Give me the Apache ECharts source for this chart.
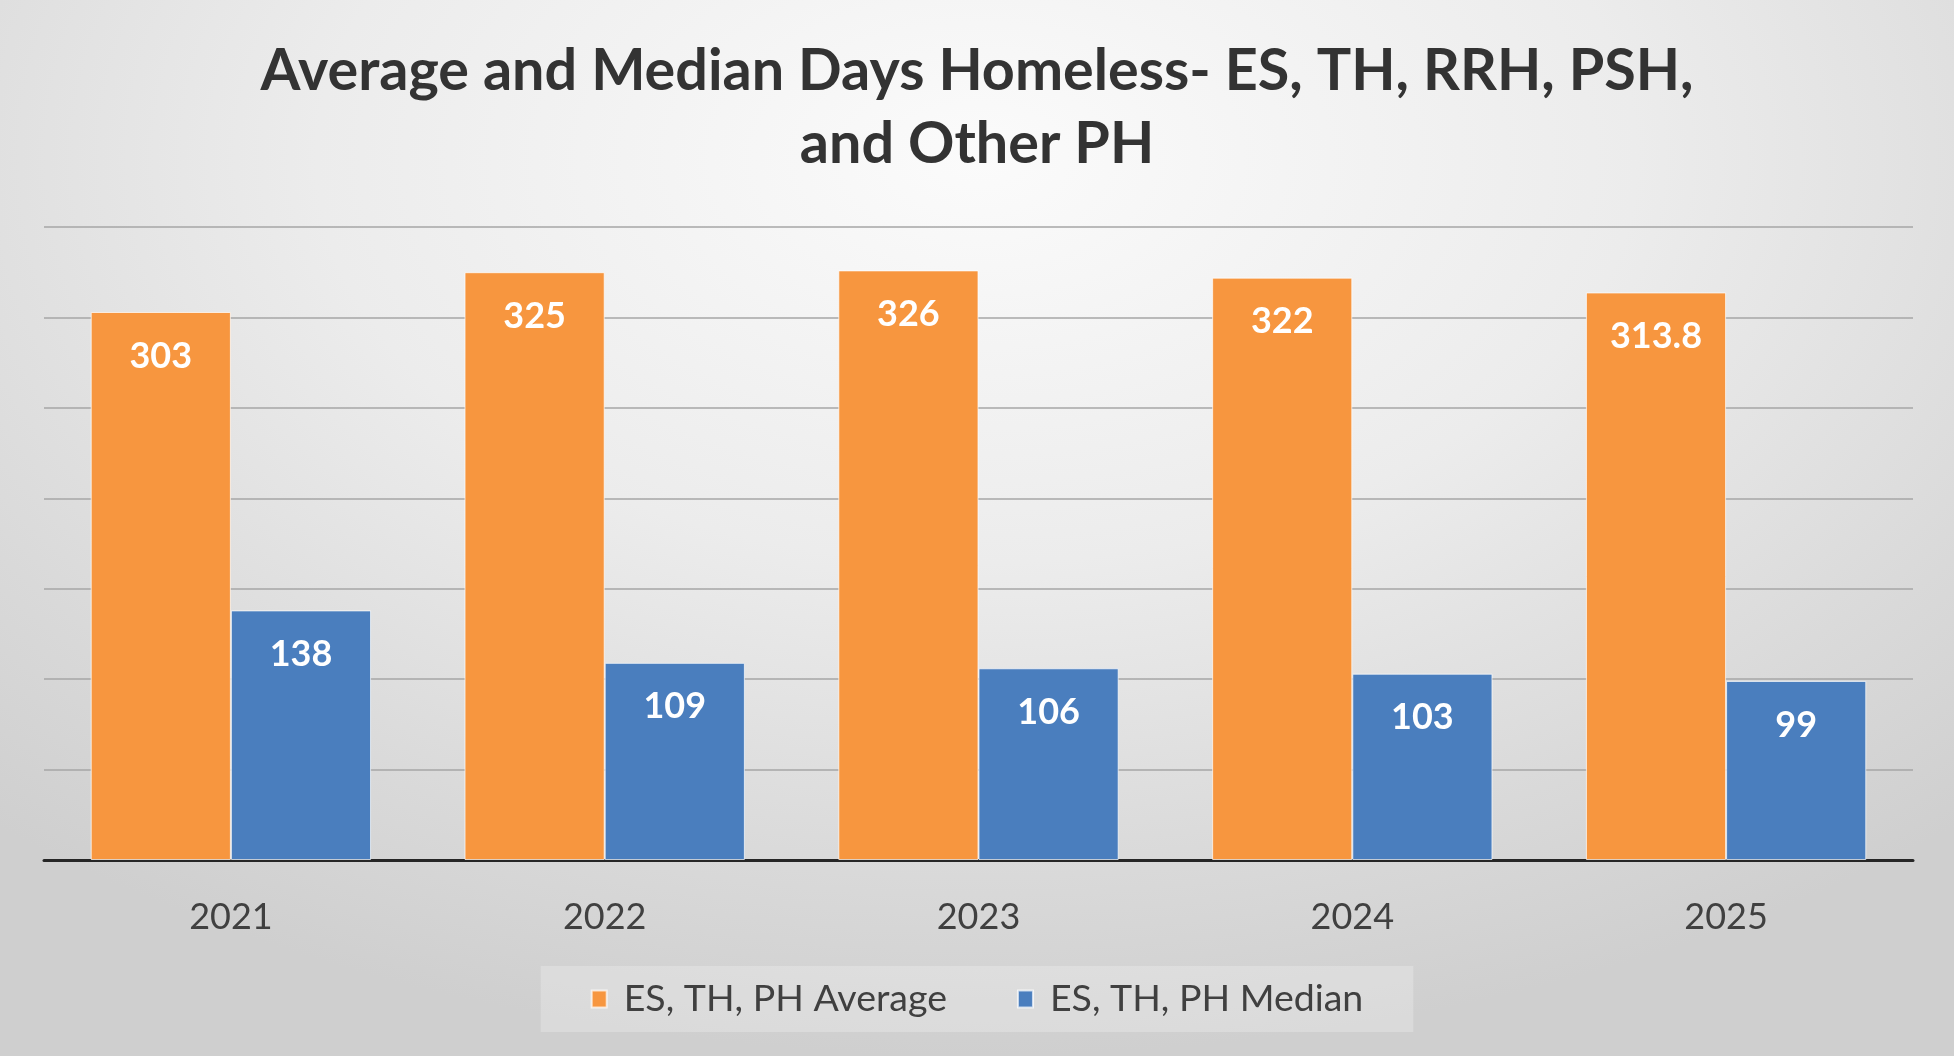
<!DOCTYPE html>
<html>
<head>
<meta charset="utf-8">
<script src="https://cdn.jsdelivr.net/npm/echarts@6/dist/echarts.min.js"></script>
<style>
html,body{margin:0;padding:0;width:1954px;height:1056px;overflow:hidden;}
body{background:radial-gradient(ellipse 75% 85% at 50% 15%, #fbfbfb 0%, #ececec 45%, #d9d9d9 80%, #cfcfcf 100%);}
#chart{width:1954px;height:1056px;}
</style>
</head>
<body>
<div id="chart"></div>
<script>
const titleText = 'Average and Median Days Homeless- ES, TH, RRH, PSH,\nand Other PH';
const categories = ['2021', '2022', '2023', '2024', '2025'];
const averageName = 'ES, TH, PH Average';
const medianName = 'ES, TH, PH Median';
const averageValues = [303, 325, 326, 322, 313.8];
const medianValues = [138, 109, 106, 103, 99];
const yMin = 0, yMax = 350, yInterval = 50;

const chart = echarts.init(document.getElementById('chart'), null, {renderer: 'canvas'});
const fontFamily = 'Lato, "Open Sans", sans-serif';
const labelStyle = {
  show: true,
  position: 'insideTop',
  distance: 26,
  color: '#ffffff',
  fontFamily: fontFamily,
  fontWeight: 'bold',
  fontSize: 36
};
chart.setOption({
  backgroundColor: 'transparent',
  title: {
    text: titleText,
    left: 'center',
    top: 30,
    textStyle: {
      fontFamily: fontFamily,
      fontWeight: 'bold',
      fontSize: 57.5,
      lineHeight: 73,
      color: '#333333'
    }
  },
  legend: {
    bottom: 24,
    left: 'center',
    itemWidth: 15,
    itemHeight: 17,
    itemGap: 70,
    icon: 'rect',
    padding: [14, 50, 14, 50],
    backgroundColor: 'rgba(245,245,245,0.3)',
    textStyle: {fontFamily: fontFamily, fontSize: 37.5, color: '#404040', padding: [0, 0, 0, 12]},
    data: [averageName, medianName]
  },
  grid: {left: 44, right: 41, top: 227, bottom: 196, containLabel: false},
  xAxis: {
    type: 'category',
    data: categories,
    axisTick: {show: false},
    axisLine: {show: true, lineStyle: {color: '#262626', width: 3}},
    axisLabel: {margin: 39, fontFamily: fontFamily, fontSize: 36, color: '#404040'}
  },
  yAxis: {
    type: 'value',
    min: yMin,
    max: yMax,
    interval: yInterval,
    axisLabel: {show: false},
    axisLine: {show: false},
    axisTick: {show: false},
    splitLine: {show: true, lineStyle: {color: '#a6a6a6', width: 1.5}}
  },
  series: [
    {
      name: averageName,
      type: 'bar',
      data: averageValues,
      barGap: '0%',
      barCategoryGap: '25%',
      itemStyle: {color: '#F7963F', borderColor: 'rgba(255,255,255,0.7)', borderWidth: 1},
      label: labelStyle
    },
    {
      name: medianName,
      type: 'bar',
      data: medianValues,
      barGap: '0%',
      barCategoryGap: '25%',
      itemStyle: {color: '#4A7EBE', borderColor: 'rgba(255,255,255,0.7)', borderWidth: 1},
      label: labelStyle
    }
  ]
});
</script>
</body>
</html>
